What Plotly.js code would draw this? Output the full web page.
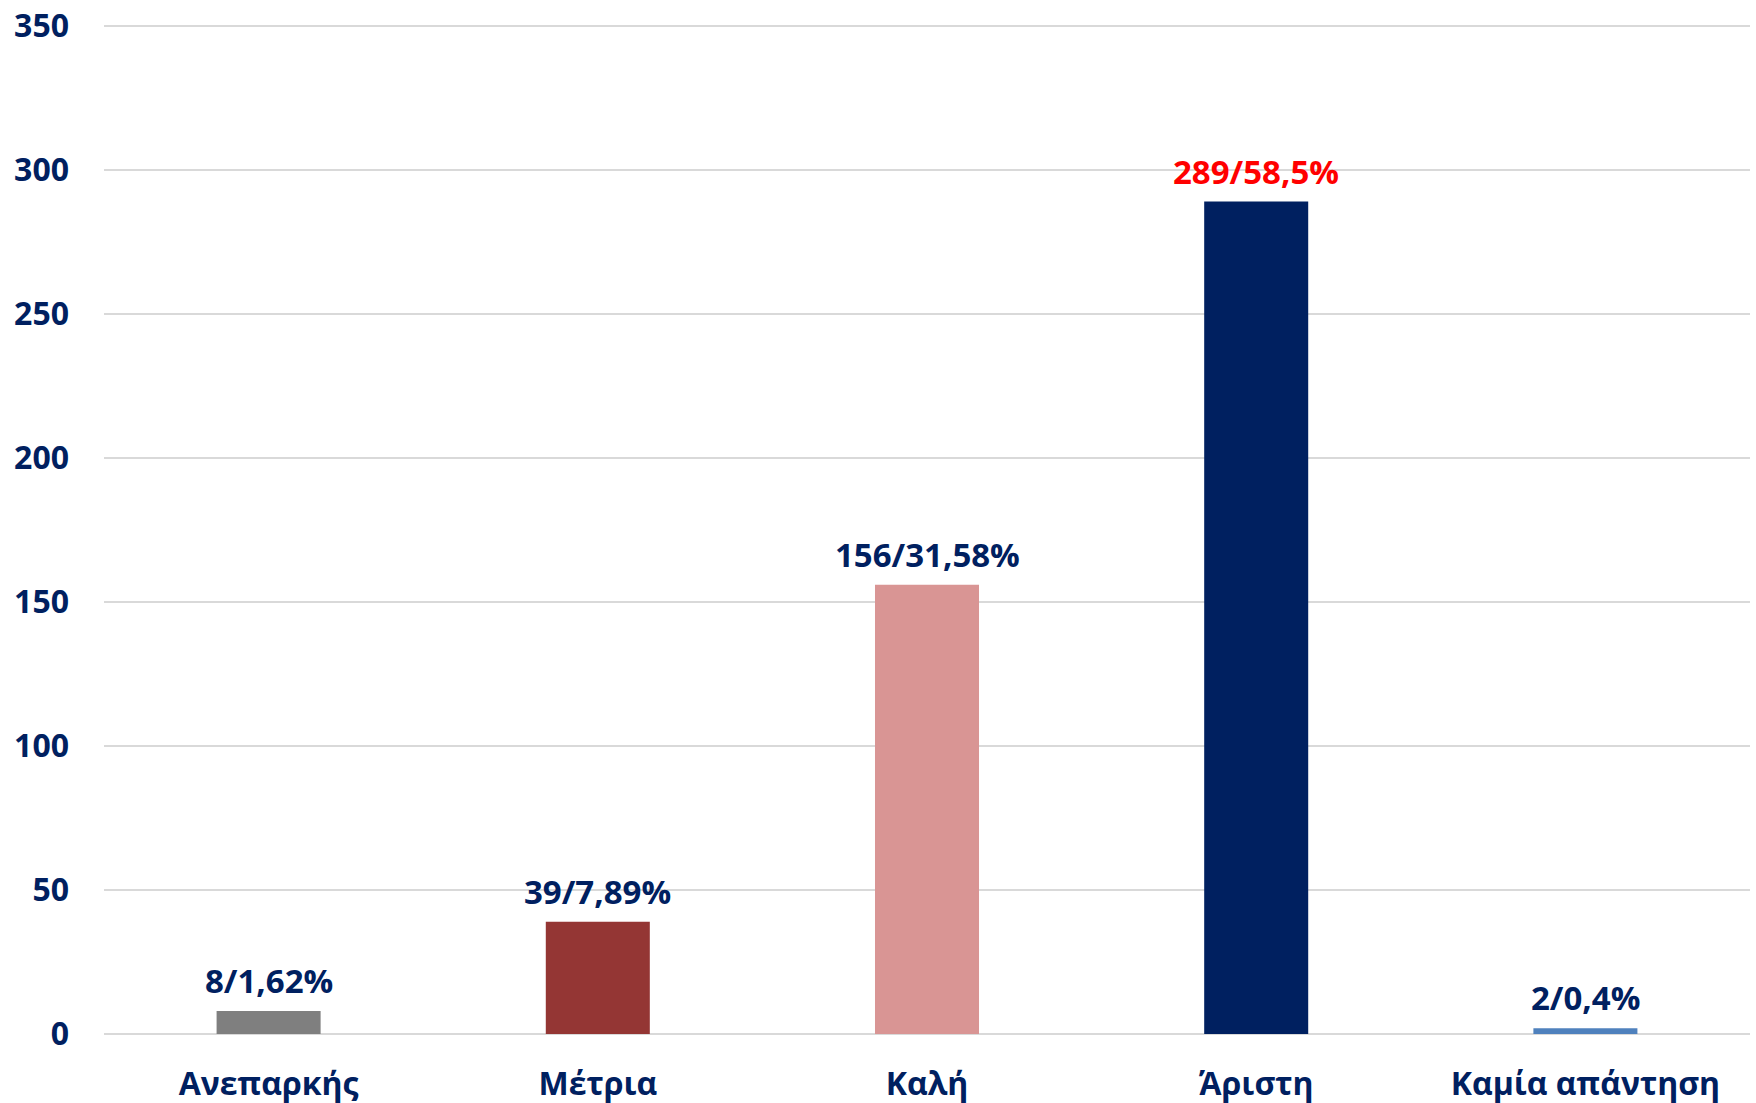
<!DOCTYPE html>
<html><head><meta charset="utf-8">
<script src="https://cdn.plot.ly/plotly-3.0.1.min.js"></script>
<style>html,body{margin:0;padding:0;background:#fff}</style>
</head><body><div id="chart" style="width:1756px;height:1103px"></div>
<script>
const categories = ["Ανεπαρκής", "Μέτρια", "Καλή", "Άριστη", "Καμία απάντηση"];
const counts = [8, 39, 156, 289, 2];
const labels = ["8/1,62%", "39/7,89%", "156/31,58%", "289/58,5%", "2/0,4%"];
const barColors = ["#7F7F7F", "#943634", "#D99594", "#002060", "#4F81BD"];
const labelColors = ["#002060", "#002060", "#002060", "#FF0000", "#002060"];
const yTicks = [0, 50, 100, 150, 200, 250, 300, 350];

const font = "'Open Sans', 'Noto Sans', sans-serif";
const navy = "#002060";

const trace = {
  type: "bar", x: categories, y: counts,
  marker: {color: barColors},
  hoverinfo: "none"
};
const annotations = categories.map((c, i) => ({
  x: c, y: counts[i], xref: "x", yref: "y", text: labels[i],
  showarrow: false, yanchor: "bottom", yshift: 6,
  font: {family: font, size: 33, color: labelColors[i], weight: 700}
}));
const layout = {
  width: 1756, height: 1103,
  margin: {l: 104, r: 6, t: 23, b: 69},
  paper_bgcolor: "#fff", plot_bgcolor: "#fff",
  bargap: 0.684, showlegend: false,
  font: {family: font, color: navy},
  xaxis: {
    showgrid: false, showline: false, zeroline: false,
    tickfont: {family: font, size: 32, color: navy, weight: 700},
    ticklabelstandoff: 28
  },
  yaxis: {
    range: [0, 351], tickvals: yTicks, ticktext: yTicks.map(String),
    showgrid: true, gridcolor: "#D9D9D9", gridwidth: 2,
    zeroline: true, zerolinecolor: "#D9D9D9", zerolinewidth: 2,
    showline: false, ticklabeloverflow: "allow",
    tickfont: {family: font, size: 32, color: navy, weight: 700},
    ticklabelstandoff: 34
  },
  annotations: annotations
};
Plotly.newPlot("chart", [trace], layout, {displayModeBar: false, staticPlot: true});
</script></body></html>
